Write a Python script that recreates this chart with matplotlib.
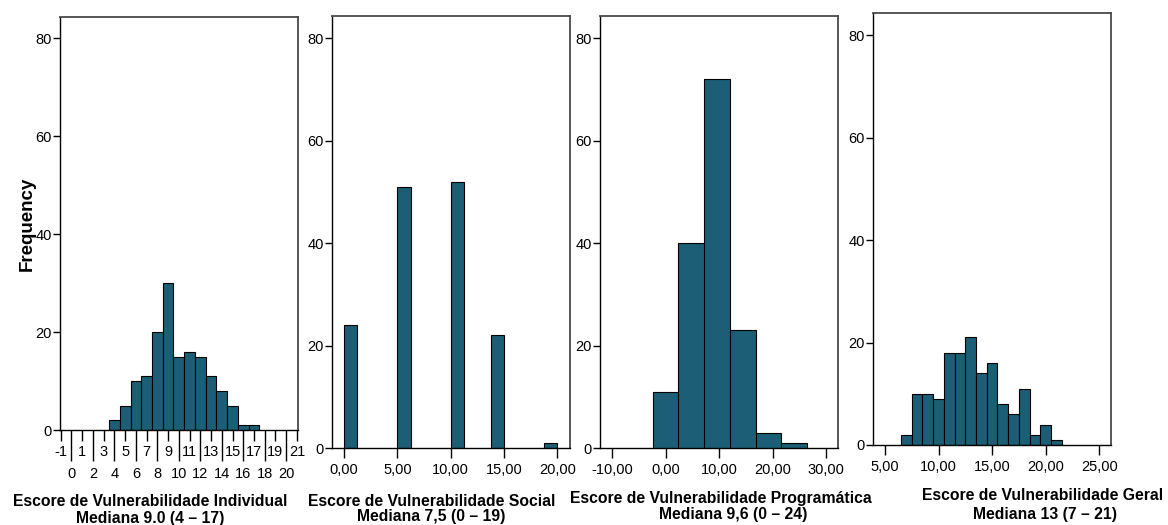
import numpy as np
import matplotlib
matplotlib.use("Agg")
import matplotlib.pyplot as plt
import matplotlib.ticker as ticker

plt.rcParams['axes.unicode_minus'] = False

# ---- data
ind_x = [4, 5, 6, 7, 8, 9, 10, 11, 12, 13, 14, 15, 16, 17]
ind_n = [2, 5, 10, 11, 20, 30, 15, 16, 15, 11, 8, 5, 1, 1]

soc_left = [0, 5, 10, 13.75, 18.75]
soc_n = [24, 51, 52, 22, 1]

prog_edges = [-2.45, 2.36, 7.17, 11.98, 16.79, 21.6, 26.41]
prog_n = [11, 40, 72, 23, 3, 1]

ger_x = [7, 8, 9, 10, 11, 12, 13, 14, 15, 16, 17, 18, 19, 20, 21]
ger_n = [2, 10, 10, 9, 18, 18, 21, 14, 16, 8, 6, 11, 2, 4, 1]

titles = ["Escore de Vulnerabilidade Individual",
          "Escore de Vulnerabilidade Social",
          "Escore de Vulnerabilidade Programática",
          "Escore de Vulnerabilidade Geral"]
medianas = ["Mediana 9.0 (4 \u2013 17)",
            "Mediana 7,5 (0 \u2013 19)",
            "Mediana 9,6 (0 \u2013 24)",
            "Mediana 13 (7 \u2013 21)"]

bar_col = '#1c5e75'
tick_font = ['Liberation Sans Narrow', 'Liberation Sans', 'DejaVu Sans']
W, H = 1168, 525

fig = plt.figure(figsize=(W/100, H/100), dpi=100)

def px_axes(x0, x1, y0, y1):
    # axes from pixel box (y measured from top)
    return fig.add_axes([x0/W, (H-y1)/H, (x1-x0)/W, (y1-y0)/H])

def style(ax, xlim):
    ax.set_xlim(*xlim)
    ax.set_ylim(0, 84.3)
    ax.set_yticks([0, 20, 40, 60, 80])
    for s in ['top', 'right']:
        ax.spines[s].set_color('#4a4a4a')
        ax.spines[s].set_linewidth(1.3)
    for s in ['left', 'bottom']:
        ax.spines[s].set_color('black')
        ax.spines[s].set_linewidth(1.0)
    ax.tick_params(axis='y', length=5, width=1, pad=1, labelsize=10.5)
    for lab in ax.get_yticklabels():
        lab.set_family(tick_font)

comma = ticker.FuncFormatter(lambda v, p: f'{v:.2f}'.replace('.', ','))

# ---- panel 1 : individual
ax1 = px_axes(60, 298, 17, 430)
ax1.bar(ind_x, ind_n, width=1, color=bar_col, edgecolor='black', linewidth=0.8)
style(ax1, (-1.07, 21.1))
ax1.xaxis.set_major_locator(ticker.FixedLocator(np.arange(-1, 22, 2)))
ax1.xaxis.set_minor_locator(ticker.FixedLocator(np.arange(0, 21, 2)))
ax1.xaxis.set_minor_formatter(ticker.FormatStrFormatter('%d'))
ax1.tick_params(axis='x', which='major', length=8, width=1, pad=3, labelsize=10.5)
ax1.tick_params(axis='x', which='minor', length=22, width=1, pad=5, labelsize=10.5)
for lab in ax1.get_xticklabels(which='both'):
    lab.set_family(tick_font)

# ---- panel 2 : social
ax2 = px_axes(332, 570, 16, 448)
ax2.bar(soc_left, soc_n, width=1.25, align='edge', color=bar_col,
        edgecolor='black', linewidth=0.8)
style(ax2, (-1.12, 21.18))
ax2.set_xticks([0, 5, 10, 15, 20])

# ---- panel 3 : programatica
ax3 = px_axes(600, 838, 16, 448)
ax3.stairs(prog_n, prog_edges, fill=True, color=bar_col)
ax3.stairs(prog_n, prog_edges, fill=False, color='black', linewidth=0.8)
ax3.vlines(prog_edges[1:-1], 0, np.minimum(prog_n[:-1], prog_n[1:]),
           color='black', linewidth=0.8)
style(ax3, (-12.3, 32.2))
ax3.set_xticks([-10, 0, 10, 20, 30])

# ---- panel 4 : geral
ax4 = px_axes(873, 1111, 13, 445)
ax4.bar(ger_x, ger_n, width=1, color=bar_col, edgecolor='black', linewidth=0.8)
style(ax4, (3.88, 26.1))
ax4.set_xticks([5, 10, 15, 20, 25])

for ax in [ax2, ax3, ax4]:
    ax.xaxis.set_major_formatter(comma)
    ax.tick_params(axis='x', length=7, width=1, pad=4, labelsize=10.5)
    for lab in ax.get_xticklabels():
        lab.set_family(tick_font)

# ---- labels
fig.text(27/W, 1 - 224/H, 'Frequency', rotation=90, fontsize=13.5,
         fontweight='bold', family='Liberation Sans', ha='center', va='center')

tpos = [(150, 501), (432, 501), (721, 498), (1043, 496)]
mpos = [(150, 519), (431, 516), (733, 515), (1045, 514)]
for t, m, (tx, ty), (mx, my) in zip(titles, medianas, tpos, mpos):
    fig.text(tx/W, 1 - ty/H, t, fontsize=11.3, fontweight='bold',
             family='Liberation Sans', ha='center', va='center')
    fig.text(mx/W, 1 - my/H, m, fontsize=11.3, fontweight='bold',
             family='Liberation Sans', ha='center', va='center')

fig.savefig('out.png', dpi=100)
